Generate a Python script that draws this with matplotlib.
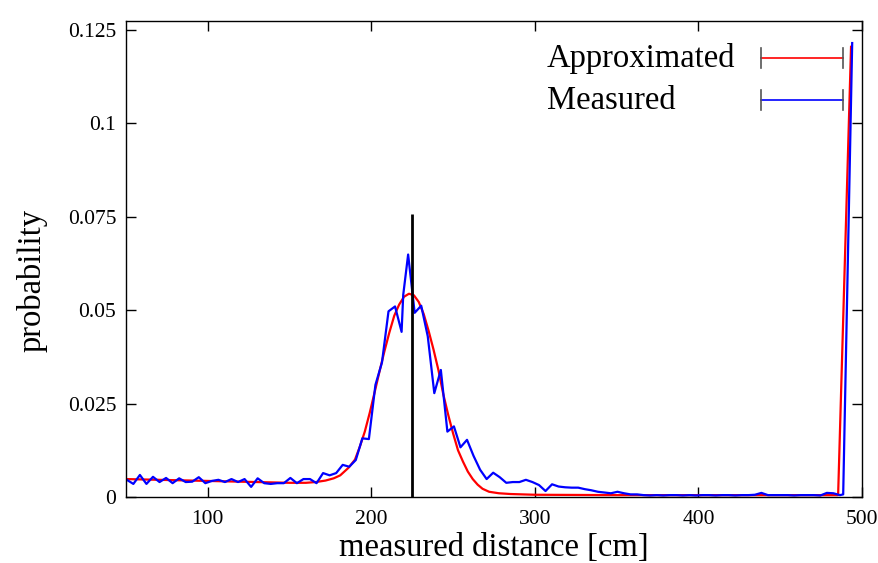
import numpy as np
import matplotlib.pyplot as plt
from matplotlib.lines import Line2D

plt.rcParams['font.family'] = ['Liberation Serif', 'DejaVu Serif']

# measured histogram (blue)
meas_x = [50.5, 54.5, 58.5, 62.5, 66.5, 70.5, 74.5, 78.5, 82.5, 86.5,
          90.5, 94.5, 98.5, 102.5, 106.5, 110.5, 114.5, 118.5, 122.5, 126.5,
          130.5, 134.5, 138.5, 142.5, 146.5, 150.5, 154.5, 158.5, 162.5, 166.5,
          170.5, 174.5, 178.5, 182.5, 186.5, 190.5, 194.5, 198.5, 202.5, 206.5,
          210.5, 214.5, 218.5, 219.5, 222.5, 226.5, 230.5, 234.5, 238.5, 242.5,
          246.5, 250.5, 254.5, 258.5, 262.5, 266.5, 270.5, 274.5, 278.5, 282.5,
          286.5, 290.5, 294.5, 298.5, 302.5, 306.5, 310.5, 314.5, 318.5, 322.5,
          326.5, 330.5, 334.5, 338.5, 342.5, 346.5, 350.5, 354.5, 358.5, 362.5,
          366.5, 370.5, 374.5, 378.5, 382.5, 386.5, 390.5, 394.5, 398.5, 402.5,
          406.5, 410.5, 414.5, 418.5, 422.5, 426.5, 430.5, 434.5, 438.5, 442.5,
          446.5, 450.5, 454.5, 458.5, 462.5, 466.5, 470.5, 474.5, 478.5, 482.5,
          486.5, 488.5, 494.0]
meas_y = [0.0046, 0.0035, 0.0059, 0.0035, 0.0054, 0.0040, 0.0051, 0.0037, 0.0050, 0.0040,
          0.0041, 0.0053, 0.0037, 0.0043, 0.0046, 0.0040, 0.0048, 0.0040, 0.0048, 0.0027,
          0.0050, 0.0037, 0.0035, 0.0037, 0.0037, 0.0051, 0.0037, 0.0048, 0.0048, 0.0037,
          0.0064, 0.0058, 0.0064, 0.0086, 0.0081, 0.0099, 0.0157, 0.0155, 0.0300, 0.0360,
          0.0497, 0.0510, 0.0442, 0.0541, 0.0649, 0.0493, 0.0512, 0.0430, 0.0278, 0.0340,
          0.0175, 0.0189, 0.0133, 0.0153, 0.0110, 0.0073, 0.0048, 0.0065, 0.0053, 0.0038,
          0.0040, 0.0040, 0.0046, 0.0040, 0.0032, 0.0016, 0.0034, 0.0028, 0.0026, 0.0025,
          0.0025, 0.0021, 0.0018, 0.0014, 0.0012, 0.0010, 0.0014, 0.0010, 0.0007, 0.0007,
          0.0005, 0.0004, 0.0005, 0.0004, 0.0005, 0.0005, 0.0004, 0.0005, 0.0004, 0.0005,
          0.0005, 0.0004, 0.0005, 0.0005, 0.0004, 0.0005, 0.0005, 0.0006, 0.0011, 0.0005,
          0.0005, 0.0005, 0.0005, 0.0004, 0.0005, 0.0005, 0.0005, 0.0004, 0.0011, 0.0010,
          0.0005, 0.0007, 0.1215]

# approximated model (red)
appr_x = [50, 70, 90, 110, 130, 150, 160, 166, 172, 177, 181, 186, 190, 193, 196,
          199, 202, 205, 208, 211, 214, 217, 220, 223, 226, 229, 232, 235, 238, 241,
          244, 247, 250, 253, 256, 259, 262, 265, 268, 272, 278, 285, 300, 350, 400,
          450, 485.4, 493.3]
appr_y = [0.0048, 0.0046, 0.0044, 0.0042, 0.0040, 0.0038, 0.0038, 0.0040, 0.0044, 0.0050,
          0.0058, 0.0078, 0.0100, 0.0135, 0.0175, 0.0225, 0.0280, 0.0336, 0.0390, 0.0440,
          0.0485, 0.0515, 0.0536, 0.0544, 0.0540, 0.0522, 0.0490, 0.0445, 0.0395, 0.0340,
          0.0275, 0.0220, 0.0170, 0.0125, 0.0095, 0.0068, 0.0048, 0.0033, 0.0022, 0.0014,
          0.0010, 0.0008, 0.0006, 0.0005, 0.0005, 0.0005, 0.0005, 0.1205]

mean_x = 225
mean_top = 0.0757

W, H = 879, 563
fig = plt.figure(figsize=(W / 100, H / 100), dpi=100)
ax = fig.add_axes([126 / W, 1 - 497 / H, 736 / W, 476 / H])

ax.plot(appr_x, appr_y, color='#ff0000', lw=1.6)
ax.plot(meas_x, meas_y, color='#0000ff', lw=1.6)
ax.vlines(mean_x, 0, mean_top, color='black', lw=2.0, zorder=5)

ax.set_xlim(50, 500)
ax.set_ylim(0, 0.1274)
ax.set_xticks([100, 200, 300, 400, 500])
ax.set_yticks([0, 0.025, 0.05, 0.075, 0.1, 0.125])
ax.set_yticklabels(['0', '0.025', '0.05', '0.075', '0.1', '0.125'])
ax.tick_params(direction='in', length=7, width=1, top=True, right=True,
               labelsize=15.5)
ax.tick_params(axis='x', pad=9)
ax.tick_params(axis='y', pad=7)
for s in ax.spines.values():
    s.set_linewidth(1.0)

fig.text(494 / W, 1 - 548 / H, 'measured distance [cm]', ha='center', va='center',
         fontsize=23.5)
fig.text(32 / W, 1 - 280 / H, 'probability', ha='center', va='center',
         rotation=90, fontsize=23.5)

# legend drawn by hand: text, line sample and gray end bars
legend = [('Approximated', '#ff0000', 58), ('Measured', '#0000ff', 100)]
for label, col, yp in legend:
    fig.text(547 / W, 1 - (yp + 1) / H, label, ha='left', va='center', fontsize=23.5)
    fig.add_artist(Line2D([761 / W, 843 / W], [1 - yp / H, 1 - yp / H],
                          color=col, lw=1.2))
    for xp in (761, 843):
        fig.add_artist(Line2D([xp / W, xp / W], [1 - (yp - 10) / H, 1 - (yp + 10) / H],
                              color='#555555', lw=1.2))

fig.savefig('out.png', dpi=100)
